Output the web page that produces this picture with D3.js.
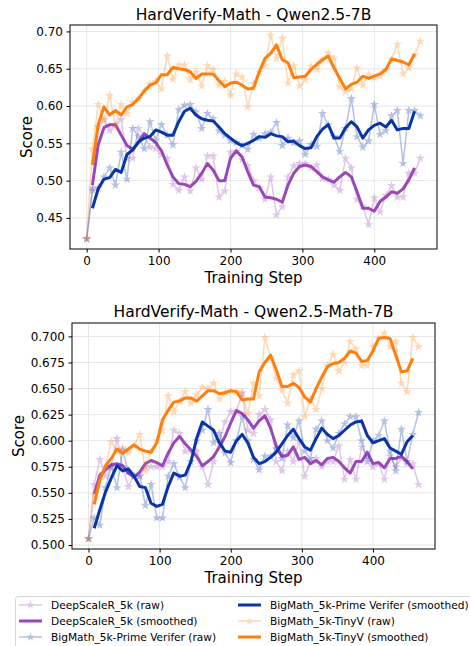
<!DOCTYPE html>
<html>
<head>
<meta charset="utf-8">
<script src="https://cdn.jsdelivr.net/npm/d3@7"></script>
<style>
body { margin: 0; background: #fff; }
svg { display: block; font-family: "DejaVu Sans", sans-serif; }
</style>
</head>
<body>
<svg id="chart" width="470" height="646"></svg>
<script>
// training steps of the raw points (smoothed curves skip first and last)
var steps = [0, 8, 16, 24, 32, 40, 48, 56, 64, 72, 80, 88, 96, 104, 112, 120, 128, 136, 144, 152,
	160, 168, 176, 184, 192, 200, 208, 216, 224, 232, 240, 248, 256, 264, 272, 280, 288, 296, 304, 312,
	320, 328, 336, 344, 352, 360, 368, 376, 384, 392, 400, 408, 416, 424, 432, 440, 448, 456, 464];
var smoothSteps = steps.slice(1, 58);

var seriesNames = ["DeepScaleR_5k", "BigMath_5k-Prime Verifer", "BigMath_5k-TinyV"];
var seriesColors = ["#9a48b8", "#0a35a6", "#ff7f0e"];

var xTicks = [0, 100, 200, 300, 400];
var yTicksTop = [0.45, 0.50, 0.55, 0.60, 0.65, 0.70];
var yTicksBottom = [0.500, 0.525, 0.550, 0.575, 0.600, 0.625, 0.650, 0.675, 0.700];

// ---- Qwen2.5-7B ----
var topDeepRaw = [0.422, 0.49, 0.572, 0.582, 0.567, 0.575, 0.582, 0.53, 0.53, 0.57, 0.56, 0.545, 0.543, 0.535,
	0.53, 0.495, 0.487, 0.505, 0.486, 0.517, 0.502, 0.533, 0.533, 0.478, 0.486, 0.538, 0.539, 0.528, 0.52,
	0.5, 0.49, 0.475, 0.505, 0.454, 0.465, 0.505, 0.52, 0.523, 0.523, 0.517, 0.521, 0.503, 0.502, 0.494,
	0.487, 0.53, 0.517, 0.475, 0.466, 0.441, 0.477, 0.458, 0.48, 0.493, 0.478, 0.478, 0.51, 0.51, 0.53];
var topDeepSmooth = [0.494, 0.548, 0.571, 0.575, 0.575, 0.561, 0.547, 0.542, 0.551, 0.563, 0.557, 0.551,
	0.54, 0.521, 0.505, 0.496, 0.495, 0.492, 0.499, 0.51, 0.523, 0.514, 0.5, 0.5, 0.53, 0.54, 0.532, 0.512,
	0.494, 0.492, 0.478, 0.477, 0.475, 0.471, 0.494, 0.51, 0.519, 0.521, 0.519, 0.512, 0.505, 0.501, 0.498,
	0.505, 0.511, 0.505, 0.485, 0.463, 0.463, 0.459, 0.472, 0.478, 0.485, 0.483, 0.489, 0.501, 0.517];
var topPrimeRaw = [0.422, 0.487, 0.49, 0.505, 0.517, 0.494, 0.538, 0.502, 0.57, 0.559, 0.543, 0.579, 0.554,
	0.575, 0.561, 0.548, 0.595, 0.601, 0.602, 0.592, 0.57, 0.59, 0.583, 0.567, 0.561, 0.554, 0.551, 0.547,
	0.542, 0.562, 0.557, 0.563, 0.565, 0.578, 0.547, 0.557, 0.551, 0.553, 0.535, 0.548, 0.546, 0.59, 0.575,
	0.559, 0.539, 0.57, 0.61, 0.559, 0.545, 0.553, 0.602, 0.562, 0.567, 0.587, 0.594, 0.523, 0.594, 0.594, 0.587];
var topPrimeSmooth = [0.463, 0.489, 0.502, 0.504, 0.515, 0.511, 0.535, 0.541, 0.552, 0.557, 0.559, 0.568,
	0.565, 0.561, 0.561, 0.579, 0.593, 0.597, 0.588, 0.583, 0.581, 0.58, 0.572, 0.563, 0.557, 0.551, 0.547,
	0.55, 0.554, 0.559, 0.558, 0.563, 0.56, 0.559, 0.552, 0.553, 0.547, 0.543, 0.544, 0.559, 0.569, 0.575,
	0.557, 0.557, 0.571, 0.579, 0.572, 0.557, 0.568, 0.574, 0.577, 0.572, 0.581, 0.568, 0.57, 0.57, 0.593];
var topTinyRaw = [0.422, 0.542, 0.602, 0.58, 0.614, 0.572, 0.602, 0.59, 0.605, 0.61, 0.62, 0.63, 0.633, 0.623,
	0.667, 0.636, 0.655, 0.655, 0.635, 0.646, 0.627, 0.654, 0.649, 0.628, 0.633, 0.615, 0.643, 0.639, 0.599,
	0.63, 0.645, 0.655, 0.695, 0.664, 0.691, 0.631, 0.654, 0.627, 0.635, 0.653, 0.649, 0.662, 0.671, 0.664,
	0.626, 0.619, 0.623, 0.651, 0.628, 0.642, 0.638, 0.64, 0.648, 0.662, 0.683, 0.643, 0.651, 0.668, 0.687];
var topTinySmooth = [0.521, 0.575, 0.599, 0.588, 0.594, 0.588, 0.599, 0.602, 0.61, 0.62, 0.628, 0.631, 0.642,
	0.642, 0.652, 0.65, 0.649, 0.646, 0.637, 0.643, 0.643, 0.643, 0.634, 0.626, 0.631, 0.632, 0.628, 0.623,
	0.624, 0.646, 0.664, 0.671, 0.682, 0.662, 0.658, 0.638, 0.639, 0.64, 0.649, 0.656, 0.662, 0.667, 0.651,
	0.637, 0.623, 0.629, 0.632, 0.64, 0.637, 0.64, 0.643, 0.649, 0.663, 0.661, 0.659, 0.655, 0.67];

// ---- Qwen2.5-Math-7B ----
var botDeepRaw = [0.506, 0.558, 0.582, 0.566, 0.575, 0.602, 0.575, 0.556, 0.566, 0.566, 0.575, 0.575, 0.575,
	0.575, 0.58, 0.61, 0.607, 0.59, 0.59, 0.59, 0.575, 0.558, 0.58, 0.6, 0.618, 0.628, 0.628, 0.646, 0.61,
	0.607, 0.625, 0.63, 0.62, 0.58, 0.571, 0.59, 0.58, 0.6, 0.566, 0.58, 0.583, 0.575, 0.58, 0.58, 0.595,
	0.563, 0.582, 0.563, 0.594, 0.585, 0.575, 0.578, 0.563, 0.585, 0.575, 0.583, 0.578, 0.578, 0.558];
var botDeepSmooth = [0.549, 0.567, 0.572, 0.577, 0.578, 0.576, 0.569, 0.565, 0.57, 0.578, 0.581, 0.579,
	0.576, 0.588, 0.598, 0.604, 0.597, 0.591, 0.585, 0.576, 0.58, 0.585, 0.594, 0.604, 0.617, 0.629, 0.626,
	0.62, 0.612, 0.619, 0.624, 0.612, 0.595, 0.585, 0.586, 0.594, 0.582, 0.584, 0.578, 0.581, 0.577, 0.583,
	0.584, 0.58, 0.574, 0.569, 0.58, 0.58, 0.589, 0.578, 0.579, 0.574, 0.583, 0.583, 0.585, 0.58, 0.573];
var botPrimeRaw = [0.506, 0.526, 0.519, 0.555, 0.575, 0.555, 0.591, 0.57, 0.566, 0.566, 0.538, 0.558, 0.526,
	0.526, 0.566, 0.578, 0.565, 0.555, 0.58, 0.6, 0.61, 0.63, 0.598, 0.607, 0.588, 0.579, 0.6, 0.623, 0.6,
	0.582, 0.572, 0.585, 0.585, 0.592, 0.583, 0.615, 0.603, 0.619, 0.59, 0.583, 0.611, 0.619, 0.6, 0.593,
	0.607, 0.616, 0.623, 0.623, 0.6, 0.58, 0.6, 0.605, 0.619, 0.59, 0.571, 0.611, 0.58, 0.606, 0.627];
var botPrimeSmooth = [0.516, 0.534, 0.551, 0.564, 0.576, 0.571, 0.573, 0.566, 0.556, 0.555, 0.54, 0.537,
	0.539, 0.556, 0.569, 0.566, 0.567, 0.58, 0.602, 0.618, 0.614, 0.61, 0.598, 0.59, 0.589, 0.6, 0.606, 0.598,
	0.584, 0.578, 0.58, 0.584, 0.589, 0.597, 0.605, 0.611, 0.602, 0.594, 0.591, 0.602, 0.612, 0.606, 0.602,
	0.605, 0.61, 0.615, 0.618, 0.619, 0.605, 0.598, 0.6, 0.602, 0.593, 0.59, 0.587, 0.599, 0.605];
var botTinyRaw = [0.506, 0.548, 0.566, 0.575, 0.599, 0.59, 0.593, 0.588, 0.595, 0.606, 0.571, 0.59, 0.6, 0.61,
	0.643, 0.628, 0.638, 0.647, 0.636, 0.644, 0.651, 0.65, 0.655, 0.64, 0.646, 0.647, 0.647, 0.645, 0.626,
	0.655, 0.643, 0.699, 0.68, 0.66, 0.648, 0.636, 0.663, 0.667, 0.623, 0.64, 0.63, 0.65, 0.672, 0.683,
	0.667, 0.675, 0.695, 0.688, 0.672, 0.672, 0.69, 0.698, 0.703, 0.69, 0.695, 0.655, 0.647, 0.699, 0.69];
var botTinySmooth = [0.539, 0.562, 0.576, 0.583, 0.592, 0.588, 0.592, 0.596, 0.592, 0.59, 0.589, 0.598, 0.62,
	0.629, 0.637, 0.638, 0.641, 0.641, 0.638, 0.643, 0.648, 0.648, 0.645, 0.646, 0.648, 0.647, 0.639, 0.64,
	0.64, 0.666, 0.675, 0.682, 0.668, 0.652, 0.652, 0.655, 0.651, 0.642, 0.637, 0.65, 0.661, 0.671, 0.674,
	0.675, 0.679, 0.686, 0.684, 0.676, 0.677, 0.686, 0.698, 0.699, 0.698, 0.682, 0.666, 0.667, 0.679];

var svg = d3.select("#chart");

drawPanel({
	title: "HardVerify-Math - Qwen2.5-7B",
	left: 70, right: 437, top: 25, bottom: 249,
	titleY: 19.5, yLabelX: 31.5, xLabelY: 282.5,
	yTicks: yTicksTop, yFormat: ".2f",
	raw: [topDeepRaw, topPrimeRaw, topTinyRaw],
	smooth: [topDeepSmooth, topPrimeSmooth, topTinySmooth]
});

drawPanel({
	title: "HardVerify-Math - Qwen2.5-Math-7B",
	left: 72, right: 435, top: 323, bottom: 549,
	titleY: 317, yLabelX: 24, xLabelY: 582.5,
	yTicks: yTicksBottom, yFormat: ".3f",
	raw: [botDeepRaw, botPrimeRaw, botTinyRaw],
	smooth: [botDeepSmooth, botPrimeSmooth, botTinySmooth]
});

drawLegend();

function padded(ext) {
	var pad = (ext[1] - ext[0]) * 0.05;
	return [ext[0] - pad, ext[1] + pad];
}

function drawPanel(p) {
	var G = svg.append("g");

	var xScale = d3.scaleLinear()
		.domain(padded(d3.extent(steps)))
		.range([p.left, p.right]);

	var allVals = d3.merge(p.raw.concat(p.smooth));
	var yScale = d3.scaleLinear()
		.domain(padded(d3.extent(allVals)))
		.range([p.bottom, p.top]);

	// grid
	G.append("g").selectAll("line.gx")
		.data(xTicks)
		.join("line")
		.attr("x1", d => xScale(d)).attr("x2", d => xScale(d))
		.attr("y1", p.top).attr("y2", p.bottom)
		.attr("stroke", "#e6e6e6").attr("stroke-width", 1);
	G.append("g").selectAll("line.gy")
		.data(p.yTicks)
		.join("line")
		.attr("x1", p.left).attr("x2", p.right)
		.attr("y1", d => yScale(d)).attr("y2", d => yScale(d))
		.attr("stroke", "#e6e6e6").attr("stroke-width", 1);

	var line = d3.line()
		.x(d => xScale(d[0]))
		.y(d => yScale(d[1]));
	var star = d3.symbol().type(d3.symbolStar).size(26);

	for (var i = 0; i < seriesNames.length; i++) {
		var rawPts = d3.zip(steps, p.raw[i]);
		var smPts = d3.zip(smoothSteps, p.smooth[i]);
		var col = seriesColors[i];

		var rg = G.append("g").attr("opacity", 0.3);
		rg.append("path")
			.attr("d", line(rawPts))
			.attr("fill", "none")
			.attr("stroke", col)
			.attr("stroke-width", 1.5);
		rg.selectAll("path.pt")
			.data(rawPts)
			.join("path")
			.attr("class", "pt")
			.attr("d", star)
			.attr("transform", d => "translate(" + xScale(d[0]) + "," + yScale(d[1]) + ")")
			.attr("fill", col);

		G.append("path")
			.attr("d", line(smPts))
			.attr("fill", "none")
			.attr("stroke", col)
			.attr("stroke-width", 3)
			.attr("stroke-linejoin", "round");
	}

	// axes
	var xAxis = d3.axisBottom(xScale).tickValues(xTicks).tickSize(3.5).tickPadding(3.5);
	var yAxis = d3.axisLeft(yScale).tickValues(p.yTicks)
		.tickFormat(d3.format(p.yFormat)).tickSize(3.5).tickPadding(3.5);

	var gx = G.append("g")
		.attr("transform", "translate(0," + p.bottom + ")")
		.call(xAxis);
	var gy = G.append("g")
		.attr("transform", "translate(" + p.left + ",0)")
		.call(yAxis);
	[gx, gy].forEach(function(a) {
		a.select(".domain").remove();
		a.attr("font-family", "DejaVu Sans").attr("font-size", 12);
		a.selectAll("text").attr("fill", "#000");
		a.selectAll("line").attr("stroke", "#000");
	});

	G.append("rect")
		.attr("x", p.left).attr("y", p.top)
		.attr("width", p.right - p.left).attr("height", p.bottom - p.top)
		.attr("fill", "none").attr("stroke", "#000").attr("stroke-width", 1);

	G.append("text")
		.attr("x", (p.left + p.right) / 2)
		.attr("y", p.titleY)
		.attr("text-anchor", "middle")
		.style("font-size", "15.5px")
		.text(p.title);

	G.append("text")
		.attr("x", (p.left + p.right) / 2)
		.attr("y", p.xLabelY)
		.attr("text-anchor", "middle")
		.style("font-size", "15px")
		.text("Training Step");

	G.append("text")
		.attr("transform", "translate(" + p.yLabelX + "," + ((p.top + p.bottom) / 2) + ") rotate(-90)")
		.attr("text-anchor", "middle")
		.style("font-size", "15px")
		.text("Score");
}

function drawLegend() {
	var L = svg.append("g");
	L.append("rect")
		.attr("x", 15.5).attr("y", 596.5)
		.attr("width", 470).attr("height", 60)
		.attr("rx", 3)
		.attr("fill", "#fff")
		.attr("stroke", "#d6d6d6");

	var items = [];
	seriesNames.forEach(function(n, i) {
		items.push({ label: n + " (raw)", color: seriesColors[i], raw: true });
		items.push({ label: n + " (smoothed)", color: seriesColors[i], raw: false });
	});

	var rowY = [605, 621, 637];
	var colX = [19, 238];
	var star = d3.symbol().type(d3.symbolStar).size(22);

	items.forEach(function(it, i) {
		var c = Math.floor(i / 3), r = i % 3;
		var x0 = colX[c], y0 = rowY[r];
		var h = L.append("g").attr("opacity", it.raw ? 0.3 : 1);
		h.append("line")
			.attr("x1", x0).attr("x2", x0 + 23)
			.attr("y1", y0).attr("y2", y0)
			.attr("stroke", it.color)
			.attr("stroke-width", it.raw ? 1.5 : 3);
		if (it.raw) {
			h.append("path")
				.attr("d", star)
				.attr("transform", "translate(" + (x0 + 11.5) + "," + y0 + ")")
				.attr("fill", it.color);
		}
		L.append("text")
			.attr("x", x0 + 32)
			.attr("y", y0)
			.attr("dy", "0.35em")
			.style("font-size", "10.6px")
			.text(it.label);
	});
}
</script>
</body>
</html>
